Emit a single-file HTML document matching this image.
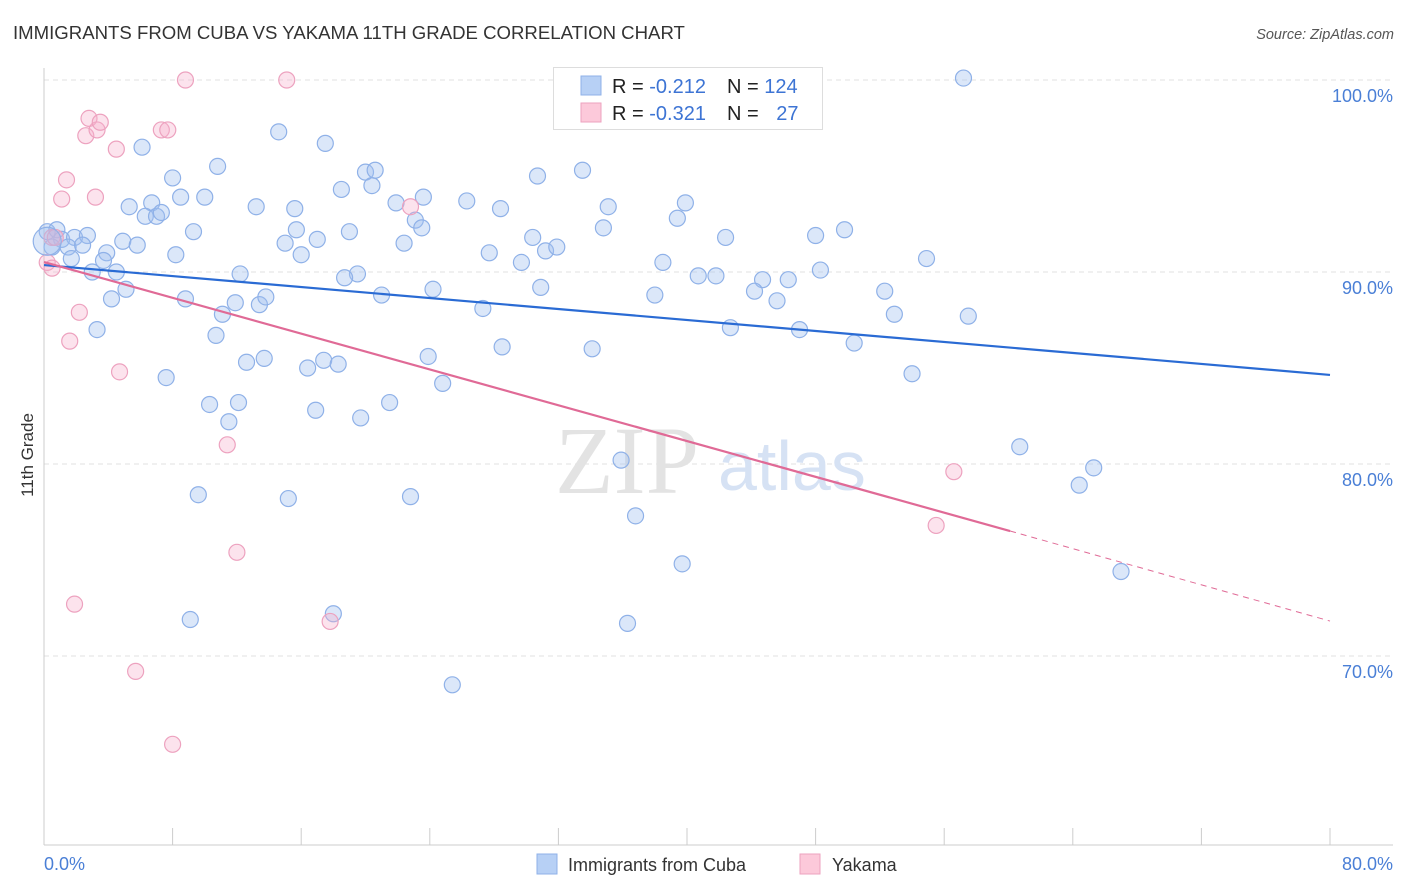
<!DOCTYPE html>
<html><head><meta charset="utf-8"><style>
body{margin:0;background:#fff;font-family:"Liberation Sans",sans-serif}
svg{display:block}
</style></head><body>
<svg id="chart" width="1406" height="892">
<text x="13" y="39" font-size="18.6" fill="#333">IMMIGRANTS FROM CUBA VS YAKAMA 11TH GRADE CORRELATION CHART</text>
<text x="1394" y="39" font-size="14.5" fill="#555" font-style="italic" text-anchor="end">Source: ZipAtlas.com</text>
<text transform="translate(33,455) rotate(-90)" font-size="17" fill="#333" text-anchor="middle">11th Grade</text>
<g id="grid"></g>
<g id="ticks"></g>
<text x="555" y="493" font-size="96" font-family="Liberation Serif,serif" fill="#e3e3e3">ZIP</text>
<text x="718" y="490" font-size="70" fill="#d6e2f4">atlas</text>
<g id="pts"></g>
<g id="lines"></g>
<g>
<rect x="553.5" y="67.5" width="269" height="62" fill="#fff" stroke="#ddd"/>
<rect x="581" y="76" width="20" height="19" fill="#b7d0f5" stroke="#8fb1e8"/>
<rect x="581" y="103" width="20" height="19" fill="#fcc9da" stroke="#eda2bf"/>
<text x="612" y="93" font-size="20" fill="#222">R = <tspan fill="#3d74d4">-0.212</tspan></text>
<text x="727" y="93" font-size="20" fill="#222">N = <tspan fill="#3d74d4">124</tspan></text>
<text x="612" y="120" font-size="20" fill="#222">R = <tspan fill="#3d74d4">-0.321</tspan></text>
<text x="727" y="120" font-size="20" fill="#222">N = <tspan fill="#3d74d4" dx="12">27</tspan></text>
</g>
<text x="44" y="870" font-size="18" fill="#4a7fd6">0.0%</text>
<text x="1393" y="870" font-size="18" fill="#4a7fd6" text-anchor="end">80.0%</text>
<g>
<rect x="537" y="854" width="20" height="20" fill="#b7d0f5" stroke="#8fb1e8"/>
<text x="568" y="871" font-size="18" fill="#333">Immigrants from Cuba</text>
<rect x="800" y="854" width="20" height="20" fill="#fcc9da" stroke="#eda2bf"/>
<text x="832" y="871" font-size="18" fill="#333">Yakama</text>
</g>
</svg>
<script>
const yTicks=[100,90,80,70];
const yTickLabels=["100.0%","90.0%","80.0%","70.0%"];
const cubaX=[0.2,0.8,1.1,1.9,2.7,0.5,1.5,2.4,1.7,3.0,3.9,4.5,3.7,4.9,5.8,5.3,6.1,6.7,6.3,7.0,7.3,8.0,8.5,8.2,9.3,10.0,10.8,12.2,13.2,14.6,15.0,15.6,15.7,16.0,17.0,17.5,18.5,19.0,19.5,20.0,20.4,20.6,18.7,21.9,22.4,23.1,23.5,23.6,26.3,27.7,28.4,29.7,30.4,30.7,31.2,31.9,33.5,34.8,35.1,39.4,39.9,38.5,40.7,41.8,42.4,44.7,46.3,48.3,48.0,49.8,54.9,4.2,5.1,3.3,8.8,11.1,11.9,13.4,13.8,10.7,12.6,13.7,16.4,17.4,18.3,21.0,24.2,27.3,28.5,30.9,34.1,38.0,44.2,45.6,42.7,47.0,50.4,52.3,52.9,57.5,54.0,7.6,10.3,11.5,12.1,16.9,19.7,21.5,23.9,24.8,9.6,15.2,22.8,35.9,36.8,39.7,60.7,65.3,64.4,67.0,9.1,18.0,36.3,25.4,57.2];
const cubaY=[92.1,92.2,91.7,91.8,91.9,91.3,91.3,91.4,90.7,90.0,91.0,90.0,90.6,91.6,91.4,93.4,96.5,93.6,92.9,92.9,93.1,94.9,93.9,90.9,92.1,93.9,95.5,89.9,93.4,97.3,91.5,93.3,92.2,90.9,91.7,96.7,94.3,92.1,89.9,95.2,94.5,95.3,89.7,93.6,91.5,92.7,92.3,93.9,93.7,91.0,93.3,90.5,91.8,95.0,91.1,91.3,95.3,92.3,93.4,92.8,93.6,90.5,89.8,89.8,91.8,89.6,89.6,90.1,91.9,92.2,90.7,88.6,89.1,87.0,88.6,87.8,88.4,88.3,88.7,86.7,85.3,85.5,85.0,85.4,85.2,88.8,89.1,88.1,86.1,89.2,86.0,88.8,89.0,88.5,87.1,87.0,86.3,89.0,87.8,87.7,84.7,84.5,83.1,82.2,83.2,82.8,82.4,83.2,85.6,84.2,78.4,78.2,78.3,80.2,77.3,74.8,80.9,79.8,78.9,74.4,71.9,72.2,71.7,68.5,100.1];
const yakX=[0.5,0.7,0.2,0.5,2.6,2.8,3.3,3.5,4.5,1.4,1.1,3.2,8.8,15.1,7.3,7.7,2.2,1.6,4.7,11.4,12.0,1.9,5.7,8.0,17.8,22.8,56.6,55.5];
const yakY=[91.8,91.8,90.5,90.2,97.1,98.0,97.4,97.8,96.4,94.8,93.8,93.9,100.0,100.0,97.4,97.4,87.9,86.4,84.8,81.0,75.4,72.7,69.2,65.4,71.8,93.4,79.6,76.8];
const cubaTrend=[[0,90.36],[80,84.64]];
const yakTrendSolid=[[0,90.52],[60.1,76.51]];
const yakTrendDash=[[60.1,76.51],[80,71.82]];

const X0=44,X1=1330,YT=80;
const sx=v=>X0+v/80*(X1-X0);
const sy=v=>YT+(100-v)*19.2;
const NS='http://www.w3.org/2000/svg';
function mk(tag,attrs,parent){const e=document.createElementNS(NS,tag);for(const k in attrs)e.setAttribute(k,attrs[k]);parent.appendChild(e);return e;}
const grid=document.getElementById('grid');
yTicks.forEach((t,i)=>{
  const l=mk('line',{x1:X0,x2:1393,y1:sy(t),y2:sy(t),stroke:'#e2e2e2','stroke-dasharray':'5,4'},grid);
  
  
  const tx=mk('text',{x:1393,y:sy(t)+22,'font-size':18,fill:'#4a7fd6','text-anchor':'end'},grid);
  tx.textContent=yTickLabels[i];
  
  
});
const tk=document.getElementById('ticks');
const ax=mk('line',{x1:X0,x2:1393,y1:845,y2:845,stroke:'#ccc'},tk);


const ay=mk('line',{x1:X0,x2:X0,y1:68,y2:845,stroke:'#ccc'},tk);


for(let v=0;v<=80;v+=8){
  const t=mk('line',{x1:sx(v),x2:sx(v),y1:828,y2:845,stroke:'#ccc'},tk);
  
  
}
const pts=document.getElementById('pts');
cubaX.forEach((x,i)=>{
  const c=mk('circle',{cx:sx(x),cy:sy(cubaY[i]),r:8,fill:'rgba(160,192,240,0.38)',stroke:'#8fb1e8','stroke-width':1.2},pts);
  
  
});
yakX.forEach((x,i)=>{
  const c=mk('circle',{cx:sx(x),cy:sy(yakY[i]),r:8,fill:'rgba(246,176,203,0.35)',stroke:'#eda2bf','stroke-width':1.2},pts);
  
  
});
const big=mk('circle',{cx:sx(0.2),cy:sy(91.6),r:14,fill:'rgba(160,192,240,0.38)',stroke:'#8fb1e8','stroke-width':1.2},pts);


const lines=document.getElementById('lines');
const l1=mk('line',{x1:sx(cubaTrend[0][0]),y1:sy(cubaTrend[0][1]),x2:sx(cubaTrend[1][0]),y2:sy(cubaTrend[1][1]),stroke:'#2a6bd4','stroke-width':2.2},lines);


const l2=mk('line',{x1:sx(yakTrendSolid[0][0]),y1:sy(yakTrendSolid[0][1]),x2:sx(yakTrendSolid[1][0]),y2:sy(yakTrendSolid[1][1]),stroke:'#e06a96','stroke-width':2.2},lines);


const l3=mk('line',{x1:sx(yakTrendDash[0][0]),y1:sy(yakTrendDash[0][1]),x2:sx(yakTrendDash[1][0]),y2:sy(yakTrendDash[1][1]),stroke:'#e06a96','stroke-width':1,'stroke-dasharray':'6,5'},lines);


</script>
</body></html>
